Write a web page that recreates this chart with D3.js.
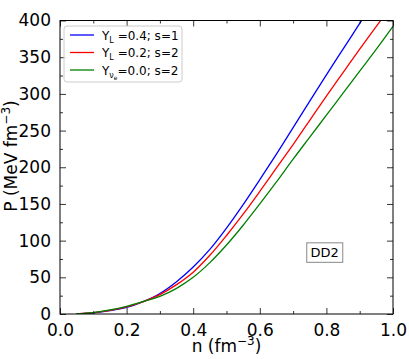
<!DOCTYPE html>
<html>
<head>
<meta charset="utf-8">
<script src="https://cdn.jsdelivr.net/npm/d3@7"></script>
<style>
  body { margin: 0; background: #fff; }
  svg text { font-family: "DejaVu Sans", sans-serif; }
</style>
</head>
<body>
<svg width="409" height="359"></svg>
<script>
// Data
var density = [0.05, 0.10, 0.15, 0.20, 0.25, 0.30, 0.35, 0.40, 0.45, 0.50,
               0.55, 0.60, 0.65, 0.70, 0.75, 0.80, 0.85, 0.90, 0.95, 1.00];
var pressYL04 = [0.3, 1.6, 4.5, 9, 17, 28, 44, 64, 88, 117,
                 149, 183, 218, 254, 290, 326, 361, 396, 431, 466];
var pressYL02 = [0.3, 1.8, 5, 9.8, 17, 26.5, 40, 57, 80, 107,
                 136, 167, 199, 231, 264, 297, 329, 361, 392, 423];
var pressYnu0 = [0.4, 2, 5.5, 10.5, 17, 24, 35, 50, 70, 94,
                 121, 150, 180, 211, 241, 271, 301, 331, 361, 392];
var xTicks = [0.0, 0.2, 0.4, 0.6, 0.8, 1.0];
var yTicks = [0, 50, 100, 150, 200, 250, 300, 350, 400];

var series = [
  { name: "YL04", color: "#0000ff", values: pressYL04, sub: "L", text: " =0.4; s=1" },
  { name: "YL02", color: "#ff0000", values: pressYL02, sub: "L", text: " =0.2; s=2" },
  { name: "Ynu", color: "#008000", values: pressYnu0, sub: "nu", text: "=0.0; s=2" }
];

var svg = d3.select("svg");
var pl = 60, pr = 393, pt = 20.5, pb = 314;

var x = d3.scaleLinear().domain([0, 1]).range([pl, pr]);
var y = d3.scaleLinear().domain([0, 400]).range([pb, pt]);

svg.append("clipPath").attr("id", "clip")
  .append("rect").attr("x", pl).attr("y", pt)
  .attr("width", pr - pl).attr("height", pb - pt);

// Curves
var line = d3.line()
  .x(function(d) { return x(d[0]); })
  .y(function(d) { return y(d[1]); })
  .curve(d3.curveCatmullRom.alpha(0.5));

series.forEach(function(s) {
  var pts = density.map(function(n, i) { return [n, s.values[i]]; });
  svg.append("path").datum(pts)
    .attr("clip-path", "url(#clip)")
    .attr("fill", "none")
    .attr("stroke", s.color)
    .attr("stroke-width", 1.3)
    .attr("d", line);
});

// Axes (ticks inward on all four sides)
function styleAxis(g) {
  g.select(".domain").remove();
  g.selectAll("line").attr("stroke", "#000").attr("stroke-width", 0.8);
}
var xMinor = d3.range(0.1, 1.0, 0.2);
var yMinor = d3.range(25, 400, 50);

svg.append("g").attr("transform", "translate(0," + pb + ")")
  .call(d3.axisBottom(x).tickValues(xTicks).tickSize(-6).tickPadding(10)
    .tickFormat(d3.format(".1f")))
  .call(styleAxis)
  .selectAll("text").attr("font-size", 17).attr("fill", "#000");
svg.append("g").attr("transform", "translate(0," + pb + ")")
  .call(d3.axisBottom(x).tickValues(xMinor).tickSize(-3).tickFormat(""))
  .call(styleAxis);
svg.append("g").attr("transform", "translate(0," + pt + ")")
  .call(d3.axisTop(x).tickValues(xTicks).tickSize(-6).tickFormat(""))
  .call(styleAxis);
svg.append("g").attr("transform", "translate(0," + pt + ")")
  .call(d3.axisTop(x).tickValues(xMinor).tickSize(-3).tickFormat(""))
  .call(styleAxis);

svg.append("g").attr("transform", "translate(" + pl + ",0)")
  .call(d3.axisLeft(y).tickValues(yTicks).tickSize(-6).tickPadding(9))
  .call(styleAxis)
  .selectAll("text").attr("font-size", 17).attr("fill", "#000");
svg.append("g").attr("transform", "translate(" + pl + ",0)")
  .call(d3.axisLeft(y).tickValues(yMinor).tickSize(-3).tickFormat(""))
  .call(styleAxis);
svg.append("g").attr("transform", "translate(" + pr + ",0)")
  .call(d3.axisRight(y).tickValues(yTicks).tickSize(-6).tickFormat(""))
  .call(styleAxis);
svg.append("g").attr("transform", "translate(" + pr + ",0)")
  .call(d3.axisRight(y).tickValues(yMinor).tickSize(-3).tickFormat(""))
  .call(styleAxis);

// Frame
svg.append("rect").attr("x", pl).attr("y", pt)
  .attr("width", pr - pl).attr("height", pb - pt)
  .attr("fill", "none").attr("stroke", "#000").attr("stroke-width", 1);

// Axis labels
var xl = svg.append("text").attr("x", (pl + pr) / 2).attr("y", 352)
  .attr("text-anchor", "middle").attr("font-size", 17);
xl.append("tspan").text("n (fm");
xl.append("tspan").attr("dy", -7).attr("font-size", 12).text("\u22123");
xl.append("tspan").attr("dy", 7).text(")");

var yl = svg.append("text")
  .attr("transform", "translate(17,156) rotate(-90)")
  .attr("text-anchor", "middle").attr("font-size", 17);
yl.append("tspan").text("P (MeV fm");
yl.append("tspan").attr("dy", -7).attr("font-size", 12).text("\u22123");
yl.append("tspan").attr("dy", 7).text(")");

// Legend
var lg = svg.append("g");
lg.append("rect").attr("x", 64).attr("y", 26).attr("width", 118).attr("height", 56)
  .attr("rx", 3).attr("fill", "#fff").attr("fill-opacity", 0.8)
  .attr("stroke", "#cccccc").attr("stroke-width", 1);
series.forEach(function(s, i) {
  var ly = 35 + i * 17.5;
  lg.append("line").attr("x1", 70).attr("x2", 94).attr("y1", ly).attr("y2", ly)
    .attr("stroke", s.color).attr("stroke-width", 1.3);
  var t = lg.append("text").attr("x", 102).attr("y", ly + 4.5).attr("font-size", 12);
  t.append("tspan").text("Y");
  if (s.sub === "L") {
    t.append("tspan").attr("dy", 3).attr("font-size", 8).text("L");
    t.append("tspan").attr("dy", -3).text(s.text);
  } else {
    t.append("tspan").attr("dy", 3).attr("font-size", 8).text("\u03bd");
    t.append("tspan").attr("dy", 2).attr("font-size", 6).text("e");
    t.append("tspan").attr("dy", -5).text(s.text);
  }
});

// DD2 label box
svg.append("rect").attr("x", x(0.741)).attr("y", y(97)).attr("width", 36).attr("height", 19.5)
  .attr("fill", "#fff").attr("stroke", "#888").attr("stroke-width", 1);
svg.append("text").attr("x", x(0.741) + 18).attr("y", y(97) + 14.5)
  .attr("text-anchor", "middle").attr("font-size", 13).text("DD2");
</script>
</body>
</html>
